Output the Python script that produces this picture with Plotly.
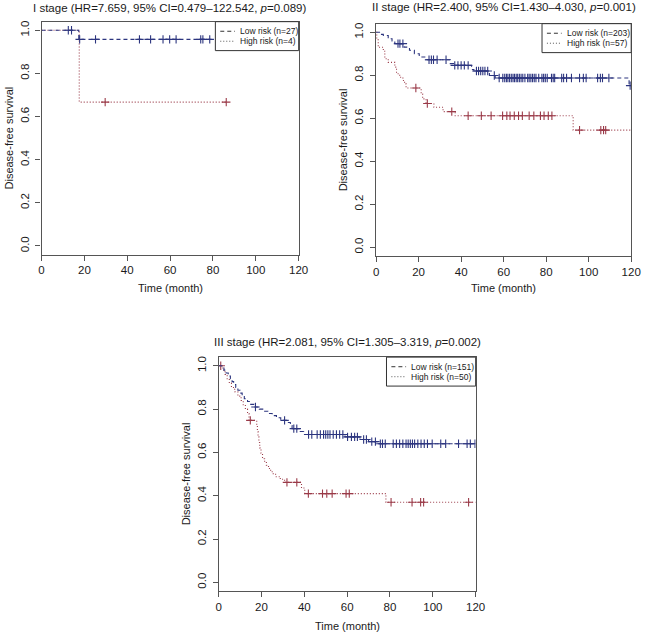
import numpy as np
import plotly.graph_objects as go

# ---------------- data ----------------
panel_titles = [
    "I stage (HR=7.659, 95% CI=0.479\u2013122.542, <i>p</i>=0.089)",
    "II stage (HR=2.400, 95% CI=1.430\u20134.030, <i>p</i>=0.001)",
    "III stage (HR=2.081, 95% CI=1.305\u20133.319, <i>p</i>=0.002)",
]
low_labels = ["Low risk (n=27)", "Low risk (n=203)", "Low risk (n=151)"]
high_labels = ["High risk (n=4)", "High risk (n=57)", "High risk (n=50)"]

x_ticks = [0, 20, 40, 60, 80, 100, 120]
y_ticks = [0.0, 0.2, 0.4, 0.6, 0.8, 1.0]
y_tick_text = ["0.0", "0.2", "0.4", "0.6", "0.8", "1.0"]

# Stage I
low1_evt_t = [17.4]
low1_evt_s = [0.958]
low1_cens = [12.5, 14.0, 17.8, 25.2, 45.7, 50.9, 56.7, 59.8, 62.8, 74.3, 75.3, 78.5]
low1_end = 80.0
high1_evt_t = [17.6]
high1_evt_s = [0.667]
high1_cens = [29.7, 86.2]
high1_end = 86.2

# Stage II
low2_evt_t = [2.0, 3.4, 5.7, 7.5, 8.8, 13.2, 15.7, 18.0, 20.3, 23.3, 34.9, 36.4,
              44.9, 46.0, 53.3, 56.0, 119.0]
low2_evt_s = [0.990, 0.985, 0.970, 0.960, 0.947, 0.931, 0.916, 0.900, 0.885, 0.872,
              0.854, 0.846, 0.827, 0.820, 0.799, 0.787, 0.752]
low2_cens = [10.3, 11.2, 12.6, 24.9, 26.0, 27.0, 28.7, 32.9, 37.0, 38.5, 40.0, 41.5,
             43.3, 47.2, 48.2, 49.2, 50.2, 51.2, 52.5, 55.6, 57.9, 59.6, 60.5, 61.3,
             62.0, 62.8, 63.6, 64.4, 65.1, 65.9, 66.6, 67.4, 68.2, 69.0, 70.0, 71.3,
             72.0, 72.8, 73.6, 74.4, 75.2, 76.5, 78.0, 78.8, 79.6, 80.5, 82.5, 83.3,
             84.0, 87.3, 88.2, 89.6, 91.9, 95.7, 97.5, 98.8, 104.2, 105.5, 106.5,
             109.5, 119.5]
low2_end = 120.0
high2_evt_t = [0.3, 1.0, 3.4, 4.1, 5.7, 8.8, 9.6, 11.1, 12.6, 13.4, 14.1, 21.2, 21.9,
               23.5, 27.2, 31.5, 37.2, 92.7]
high2_evt_s = [0.965, 0.930, 0.912, 0.877, 0.860, 0.838, 0.807, 0.791, 0.776, 0.760,
               0.741, 0.713, 0.690, 0.669, 0.651, 0.631, 0.612, 0.545]
high2_cens = [18.7, 24.1, 35.6, 43.3, 49.5, 54.1, 59.5, 61.5, 63.0, 65.0, 67.0, 68.8,
              72.0, 74.2, 77.3, 79.0, 81.0, 82.7, 95.7, 105.7, 107.0, 108.0]
high2_end = 120.0

# Stage III
low3_evt_t = [1.5, 2.5, 3.5, 4.5, 5.5, 6.3, 7.0, 8.0, 9.0, 10.0, 11.0, 12.0, 13.5, 15.0,
              16.5, 19.0, 21.0, 23.0, 25.0, 27.0, 29.0, 32.0, 33.5, 34.3, 38.0, 39.7,
              59.0, 66.0, 70.0, 74.5]
low3_evt_s = [0.993, 0.980, 0.967, 0.953, 0.940, 0.927, 0.914, 0.900, 0.887, 0.874,
              0.861, 0.848, 0.835, 0.822, 0.810, 0.800, 0.790, 0.780, 0.770, 0.760,
              0.748, 0.738, 0.724, 0.710, 0.697, 0.683, 0.672, 0.660, 0.650, 0.640]
low3_cens = [17.2, 30.8, 35.1, 36.5, 42.0, 43.5, 46.0, 47.5, 49.0, 50.0, 51.0, 52.0,
             53.5, 55.0, 56.5, 58.0, 60.2, 62.0, 63.5, 64.8, 67.7, 69.0, 71.5, 73.2,
             75.5, 76.5, 77.8, 81.5, 83.0, 84.5, 86.0, 87.5, 88.5, 89.5, 90.5, 91.5,
             93.0, 94.5, 96.0, 97.5, 99.7, 103.7, 106.0, 112.0, 116.0, 117.5, 119.7]
low3_end = 120.0
high3_evt_t = [2.0, 3.0, 4.0, 5.0, 6.0, 7.5, 9.0, 10.5, 11.5, 12.5, 13.5, 14.2, 17.8,
               18.1, 18.4, 18.8, 19.2, 19.8, 20.5, 21.5, 22.3, 23.3, 24.3, 25.5, 26.6,
               28.8, 30.8, 38.7, 40.2, 78.1]
high3_evt_s = [0.980, 0.960, 0.940, 0.920, 0.900, 0.880, 0.860, 0.840, 0.820, 0.800,
               0.780, 0.748, 0.723, 0.697, 0.672, 0.646, 0.621, 0.596, 0.571, 0.556,
               0.541, 0.526, 0.511, 0.499, 0.488, 0.476, 0.462, 0.436, 0.410, 0.370]
high3_cens = [1.0, 14.8, 31.9, 36.5, 41.9, 48.5, 50.5, 53.0, 59.5, 61.0, 80.5, 90.3,
              94.3, 95.7, 116.7]
high3_end = 120.0

# ---------------- styling ----------------
FONT = "Liberation Sans, Arial, sans-serif"
NAVY = "#2c357f"
RED = "#9a3a48"
AXIS = "#555555"
TXT = "#1a1a1a"
W, H = 651, 633

# panel boxes in pixels: (left, right, top, bottom)
boxes = [(39.3, 301.7, 20.7, 254.0), (380.7, 641.0, 22.7, 255.3), (220.0, 482.3, 356.7, 591.0)]
title_y = [7.0, 6.5, 342.0]
xlabel_y = [287.7, 287.3, 626.0]
ylabel_x = [6.5, 346.5, 187.0]
legend_w = [85.0, 91.0, 91.0]
legend_h = 29.0

series = [
    ((low1_evt_t, low1_evt_s, low1_cens, low1_end), (high1_evt_t, high1_evt_s, high1_cens, high1_end)),
    ((low2_evt_t, low2_evt_s, low2_cens, low2_end), (high2_evt_t, high2_evt_s, high2_cens, high2_end)),
    ((low3_evt_t, low3_evt_s, low3_cens, low3_end), (high3_evt_t, high3_evt_s, high3_cens, high3_end)),
]


def km_path(evt_t, evt_s, end):
    xs = [0.0] + list(evt_t) + [end]
    ys = [1.0] + list(evt_s) + [evt_s[-1]]
    return xs, ys


def km_at(evt_t, evt_s, times):
    t = np.asarray(evt_t)
    s = np.concatenate([[1.0], np.asarray(evt_s)])
    idx = np.searchsorted(t, np.asarray(times), side="right")
    return s[idx].tolist()


def px_x(v):
    return v / W


def px_y(v):
    return 1 - v / H


fig = go.Figure()
annotations = []
shapes = []
layout_axes = {}

for i, (low, high) in enumerate(series):
    k = "" if i == 0 else str(i + 1)
    xa, ya = "x" + k, "y" + k
    for (et, es, ce, end), col, dash, name in [
        (high, RED, "1px,2px", high_labels[i]),
        (low, NAVY, "4px,3px", low_labels[i]),
    ]:
        lx, ly = km_path(et, es, end)
        fig.add_trace(go.Scatter(x=lx, y=ly, mode="lines", name=name,
                                 line=dict(color=col, width=1.1, dash=dash, shape="hv"),
                                 xaxis=xa, yaxis=ya, showlegend=False, hoverinfo="skip"))
        fig.add_trace(go.Scatter(x=ce, y=km_at(et, es, ce), mode="markers", name=name + " censored",
                                 marker=dict(symbol="cross-thin", size=6, line=dict(color=col, width=1.1)),
                                 xaxis=xa, yaxis=ya, showlegend=False, hoverinfo="skip"))

    l, r, t, b = boxes[i]
    tickfont = dict(family=FONT, size=11.5, color=TXT)
    layout_axes["xaxis" + k] = dict(
        domain=[l / W, r / W], range=[0, 120], anchor=ya, tickvals=x_ticks,
        ticks="outside", ticklen=5, tickcolor=AXIS, tickwidth=1,
        showline=True, mirror=True, linecolor=AXIS, linewidth=1.2,
        showgrid=False, zeroline=False, tickfont=tickfont, fixedrange=True,
    )
    layout_axes["yaxis" + k] = dict(
        domain=[1 - b / H, 1 - t / H], range=[-0.04, 1.04], anchor=xa, tickvals=y_ticks,
        ticktext=y_tick_text, tickangle=-90, ticklabelstandoff=2,
        ticks="outside", ticklen=5, tickcolor=AXIS, tickwidth=1,
        showline=True, mirror=True, linecolor=AXIS, linewidth=1.2,
        showgrid=False, zeroline=False, tickfont=tickfont, fixedrange=True,
    )

    # legend box in the top-right corner of the panel (R-style)
    lw = legend_w[i]
    lbx0 = r - lw
    shapes.append(dict(type="rect", xref="paper", yref="paper",
                       x0=px_x(lbx0), x1=px_x(r), y0=px_y(t), y1=px_y(t + legend_h),
                       fillcolor="white", line=dict(color="#333333", width=1), layer="above"))
    for j, (lab, dash, lcol) in enumerate([(low_labels[i], "4px,3px", "#333333"),
                                          (high_labels[i], "1px,2px", "#555555")]):
        yy = t + 9.6 + j * 10.0
        shapes.append(dict(type="line", xref="paper", yref="paper",
                           x0=px_x(lbx0 + 5), x1=px_x(lbx0 + 20), y0=px_y(yy), y1=px_y(yy),
                           line=dict(color=lcol, width=1, dash=dash), layer="above"))
        annotations.append(dict(text=lab, x=px_x(lbx0 + 23), y=px_y(yy), xref="paper", yref="paper",
                                xanchor="left", yanchor="middle", showarrow=False,
                                font=dict(family=FONT, size=8.5, color=TXT)))

    cx = (l + r) / 2 / W
    annotations.append(dict(text=panel_titles[i], x=cx, y=px_y(title_y[i]), xref="paper", yref="paper",
                            xanchor="center", yanchor="middle", showarrow=False,
                            font=dict(family=FONT, size=11.5, color=TXT)))
    annotations.append(dict(text="Time (month)", x=cx, y=px_y(xlabel_y[i]), xref="paper", yref="paper",
                            xanchor="center", yanchor="middle", showarrow=False,
                            font=dict(family=FONT, size=11, color=TXT)))
    annotations.append(dict(text="Disease-free survival", x=px_x(ylabel_x[i]), y=px_y((t + b) / 2),
                            xref="paper", yref="paper", xanchor="center", yanchor="middle",
                            showarrow=False, textangle=-90,
                            font=dict(family=FONT, size=11, color=TXT)))

fig.update_layout(
    width=W, height=H, margin=dict(l=0, r=0, t=0, b=0),
    paper_bgcolor="white", plot_bgcolor="white", showlegend=False,
    annotations=annotations, shapes=shapes, **layout_axes,
)

fig.write_html("out.html", config={"displayModeBar": False},
               post_script="document.body.style.margin='0px';document.body.style.overflow='hidden';")
